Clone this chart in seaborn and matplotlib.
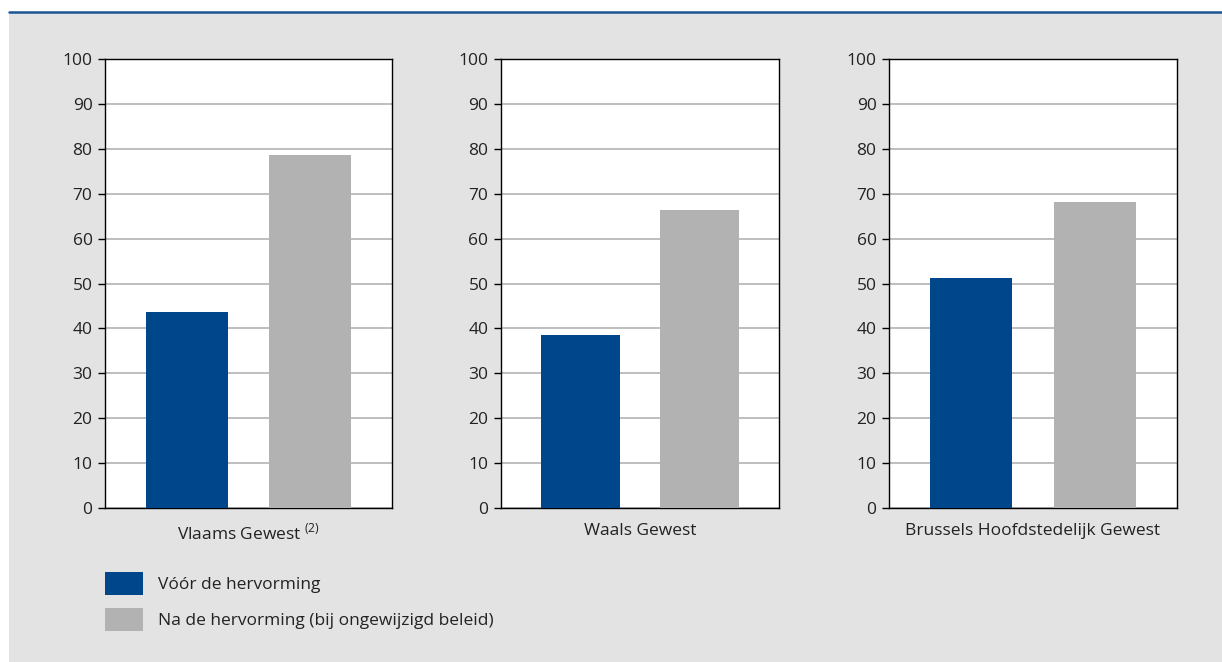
import matplotlib
matplotlib.use("Agg")
import matplotlib.pyplot as plt
from matplotlib.patches import Patch, Rectangle
from matplotlib.lines import Line2D
import seaborn as sns
import pandas as pd

# Data: share (%) per region, before and after the reform
regions = ["Vlaams Gewest", "Waals Gewest", "Brussels Hoofdstedelijk Gewest"]
region_labels = [r"Vlaams Gewest$^{\mathregular{\ (2)}}$", "Waals Gewest",
                 "Brussels Hoofdstedelijk Gewest"]
periods = ["Vóór de hervorming", "Na de hervorming (bij ongewijzigd beleid)"]
before = [43.6, 38.5, 51.2]
after = [78.6, 66.4, 68.2]
yticks = [0, 10, 20, 30, 40, 50, 60, 70, 80, 90, 100]

colors = {periods[0]: "#00468b", periods[1]: "#b2b2b2"}
bg = "#e3e3e3"
text_color = "#222222"
fs = 12.5

sns.set_theme(style="white")
plt.rcParams["font.family"] = ["Open Sans", "DejaVu Sans"]
plt.rcParams["mathtext.fontset"] = "custom"
plt.rcParams["mathtext.rm"] = "Open Sans"
plt.rcParams["text.color"] = text_color

W, H = 1222, 662
fig = plt.figure(figsize=(W / 100, H / 100), dpi=100)
fig.patch.set_facecolor("white")

# Grey panel and blue top rule
fig.patches.append(Rectangle((9 / W, 0), 1 - 9 / W, 1 - 13 / H,
                             transform=fig.transFigure, facecolor=bg,
                             edgecolor="none", zorder=-10))
fig.lines.append(Line2D([9 / W, 1], [1 - 12 / H, 1 - 12 / H],
                        transform=fig.transFigure, color="#1b5598",
                        linewidth=1.8))

# Axes boxes in pixels: (left, right)
boxes = [(105, 392), (501, 779), (889, 1177)]
top_px, bottom_px = 59, 508

for i, (l, r) in enumerate(boxes):
    ax = fig.add_axes([l / W, 1 - bottom_px / H, (r - l) / W,
                       (bottom_px - top_px) / H])
    df = pd.DataFrame({"periode": periods, "waarde": [before[i], after[i]]})
    sns.barplot(data=df, x="periode", y="waarde", hue="periode",
                palette=colors, order=periods, hue_order=periods,
                width=0.667, legend=False, ax=ax, zorder=3,
                saturation=1, linewidth=0, edgecolor="none")
    ax.set_facecolor("white")
    ax.set_xlim(-0.667, 1.667)
    ax.set_ylim(0, 100)
    ax.set_yticks(yticks)
    ax.set_yticklabels([str(t) for t in yticks])
    ax.yaxis.grid(True, color="#b3b3b3", linewidth=1.2, zorder=0)
    ax.set_axisbelow(True)
    ax.set_xticks([])
    ax.set_ylabel("")
    ax.set_xlabel(region_labels[i], fontsize=fs, color=text_color,
                  labelpad=10.5)
    ax.tick_params(axis="y", left=True, length=5, width=1, pad=4,
                   labelsize=fs, labelcolor=text_color, color="black")
    for s in ax.spines.values():
        s.set_visible(True)
        s.set_color("black")
        s.set_linewidth(1.0)

handles = [Patch(facecolor=colors[p], edgecolor="none") for p in periods]
fig.legend(handles, periods, loc="upper left",
           bbox_to_anchor=(105 / W, 1 - 572 / H), frameon=False,
           fontsize=fs, handlelength=2.18, handleheight=1.7,
           handletextpad=0.86, labelspacing=0.72, borderpad=0,
           borderaxespad=0, labelcolor=text_color)

fig.savefig("out.png", dpi=100, facecolor=fig.get_facecolor())
